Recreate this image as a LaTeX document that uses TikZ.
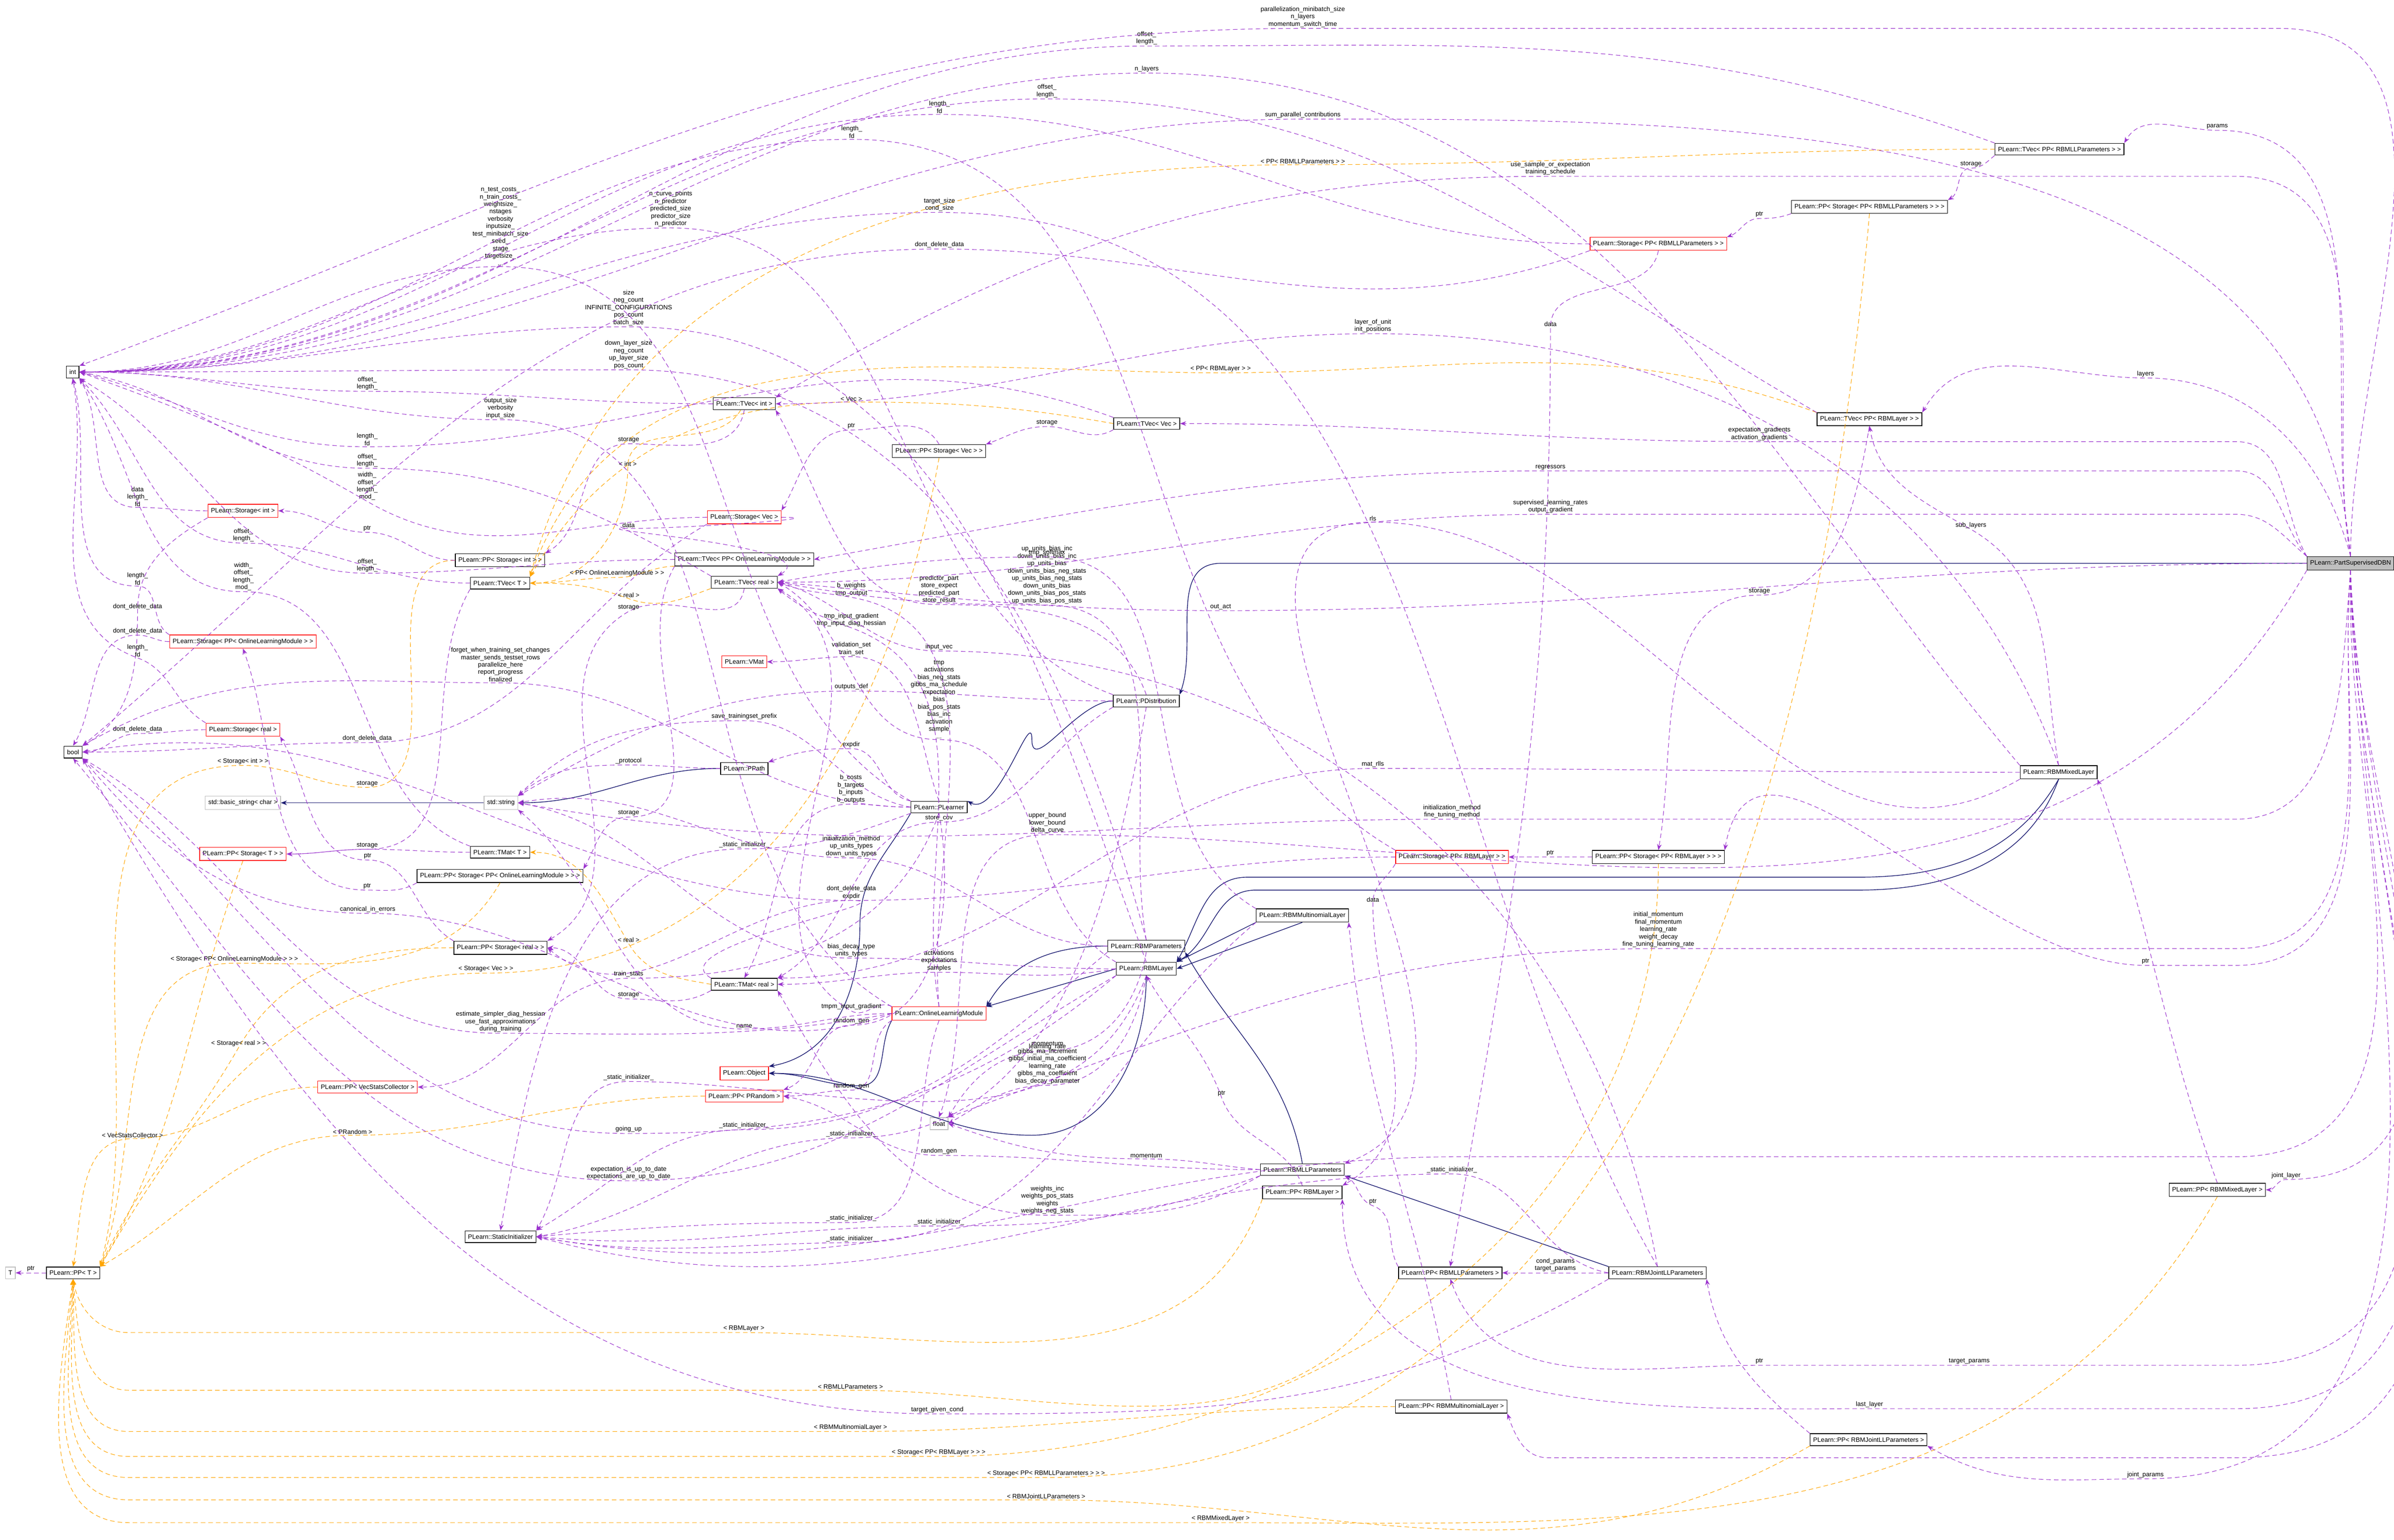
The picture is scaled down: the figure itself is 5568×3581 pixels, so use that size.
\documentclass[tikz,border=0pt]{standalone}
\usepackage{fontspec}
\setmainfont{Liberation Sans}
\usetikzlibrary{arrows.meta}
\definecolor{usecol}{HTML}{9A32CD}
\definecolor{tplcol}{HTML}{FFA500}
\definecolor{inhcol}{HTML}{191970}
\tikzset{
  box/.style={draw,fill=white,inner xsep=2pt,inner ysep=2.4pt,font=\fontsize{4.2}{5}\selectfont},
  rbox/.style={box,draw=red},
  gbox/.style={box,draw=black!25},
  lbl/.style={font=\fontsize{4.2}{4.9}\selectfont,align=center,inner sep=0.6pt,anchor=south,text=black},
  use/.style={usecol,densely dashed,line width=0.35pt,-{Stealth[length=4pt,width=3pt]}},
  tpl/.style={tplcol,densely dashed,line width=0.35pt,-{Stealth[length=4pt,width=3pt]}},
  inh/.style={inhcol,line width=0.45pt,-{Stealth[length=4pt,width=3pt]}},
  lft/.style={out=180,in=0},
  rgt/.style={out=0,in=180}
}
\begin{document}
\begin{tikzpicture}[x=0.01cm,y=0.01cm]
\useasboundingbox (0,0) rectangle (5568,-3581);

% nodes, left column
\node[box]  (int)  at (169,-865)  {int};
\node[box]  (boo)  at (170,-1749) {bool};
\node[gbox] (T)    at (24,-2960)  {T};
\node[box]  (ppT)  at (170,-2960) {PLearn::PP< T >};
\node[rbox] (stint)   at (565,-1188) {PLearn::Storage< int >};
\node[rbox] (stolm)   at (565,-1492) {PLearn::Storage< PP< OnlineLearningModule > >};
\node[rbox] (streal)  at (565,-1697) {PLearn::Storage< real >};
\node[gbox] (bstr)    at (565,-1867) {std::basic\_string< char >};
\node[rbox] (ppstT)   at (565,-1986) {PLearn::PP< Storage< T > >};
\node[rbox] (ppvsc)   at (855,-2528) {PLearn::PP< VecStatsCollector >};
\node[box]  (ppstint) at (1163,-1303) {PLearn::PP< Storage< int > >};
\node[box]  (tvecT)   at (1163,-1356) {PLearn::TVec< T >};
\node[gbox] (str)     at (1165,-1867) {std::string};
\node[box]  (tmatT)   at (1163,-1982) {PLearn::TMat< T >};
\node[box]  (ppstolm) at (1163,-2037) {PLearn::PP< Storage< PP< OnlineLearningModule > > >};
\node[box]  (ppstreal) at (1164,-2204) {PLearn::PP< Storage< real > >};
\node[box]  (sinit)   at (1164,-2876) {PLearn::StaticInitializer};

% middle columns
\node[box]  (tvecint)  at (1731,-939)  {PLearn::TVec< int >};
\node[rbox] (stvec)    at (1731,-1203) {PLearn::Storage< Vec >};
\node[box]  (tvecolm)  at (1731,-1301) {PLearn::TVec< PP< OnlineLearningModule > >};
\node[box]  (tvecreal) at (1731,-1354) {PLearn::TVec< real >};
\node[rbox] (vmat)     at (1731,-1539) {PLearn::VMat};
\node[box]  (ppath)    at (1731,-1787) {PLearn::PPath};
\node[box]  (tmatreal) at (1731,-2289) {PLearn::TMat< real >};
\node[rbox] (obj)      at (1731,-2496) {PLearn::Object};
\node[rbox] (pprand)   at (1731,-2549) {PLearn::PP< PRandom >};
\node[box]  (ppstvec)  at (2184,-1049) {PLearn::PP< Storage< Vec > >};
\node[box]  (plearner) at (2184,-1877) {PLearn::PLearner};
\node[rbox] (olm)      at (2184,-2357) {PLearn::OnlineLearningModule};
\node[gbox] (flt)      at (2184,-2613) {float};
\node[box]  (tvecvec)  at (2667,-985)  {PLearn::TVec< Vec >};
\node[box]  (pdist)    at (2666,-1630) {PLearn::PDistribution};
\node[box]  (rbmpar)   at (2666,-2200) {PLearn::RBMParameters};
\node[box]  (rbmlay)   at (2666,-2253) {PLearn::RBMLayer};
\node[box]  (rbmmulti) at (3029,-2129) {PLearn::RBMMultinomialLayer};
\node[box]  (rbmll)    at (3029,-2720) {PLearn::RBMLLParameters};
\node[box]  (pprbmlay) at (3029,-2773) {PLearn::PP< RBMLayer >};

% right columns
\node[rbox] (stll)     at (3857,-567)  {PLearn::Storage< PP< RBMLLParameters > >};
\node[box]  (ppstll)   at (4348,-481)  {PLearn::PP< Storage< PP< RBMLLParameters > > >};
\node[box]  (tvecll)   at (4790,-347)  {PLearn::TVec< PP< RBMLLParameters > >};
\node[box]  (tveclay)  at (4348,-975)  {PLearn::TVec< PP< RBMLayer > >};
\node[rbox] (stlay)    at (3377,-1993) {PLearn::Storage< PP< RBMLayer > >};
\node[box]  (ppstlay)  at (3857,-1993) {PLearn::PP< Storage< PP< RBMLayer > > >};
\node[box]  (mixed)    at (4788,-1796) {PLearn::RBMMixedLayer};
\node[box]  (pprbmll)  at (3373,-2960) {PLearn::PP< RBMLLParameters >};
\node[box]  (joint)    at (3855,-2960) {PLearn::RBMJointLLParameters};
\node[box]  (ppmixed)  at (5157,-2767) {PLearn::PP< RBMMixedLayer >};
\node[box]  (ppmulti)  at (3375,-3271) {PLearn::PP< RBMMultinomialLayer >};
\node[box]  (ppjoint)  at (4346,-3348) {PLearn::PP< RBMJointLLParameters >};
\node[box,fill=black!25] (dbn) at (5467,-1310) {PLearn::PartSupervisedDBN};

% inheritance
\draw[inh] (str) -- (bstr);
\draw[inh] (ppath) to[out=180,in=0] (str);
\draw[inh] (pdist.west) to[out=180,in=-90] (2400,-1720) to[out=90,in=-30] (plearner.north east);
\draw[inh] (dbn.west) -- (2840,-1310) to[out=180,in=70] (pdist.north east);
\draw[inh] (plearner.south west) to[out=-120,in=90] (2000,-2150) to[out=-90,in=10] (obj.north east);
\draw[inh] (olm.south west) to[out=-120,in=0] (2000,-2525) to[out=180,in=0] (obj.east);
\draw[inh] (rbmpar.west) to[out=180,in=60] (olm.north east);
\draw[inh] (rbmlay.west) -- (olm.north east);
\draw[inh] (rbmlay.south) to[out=-90,in=0] (2400,-2640) to[out=180,in=0] (obj.east);
\draw[inh] (rbmmulti.south west) -- (rbmlay.north east);
\draw[inh] (rbmmulti.south) -- (rbmlay.east);
\draw[inh] (mixed.south) to[out=-120,in=0] (4320,-2040) -- (2900,-2040) to[out=180,in=60] (rbmlay.north east);
\draw[inh] (mixed.south) to[out=-110,in=0] (4320,-2070) -- (2920,-2070) to[out=180,in=30] (rbmlay.north east);
\draw[inh] (rbmll.north) to[out=100,in=-60] (rbmpar.south east);
\draw[inh] (joint.north west) -- (rbmll.south east);

% templates
\draw[tpl] (tvecint) to[out=-120,in=90] (1460,-1087) node[lbl]{< int >} to[out=-90,in=0] (tvecT);
\draw[tpl] (tvecolm.south west) to[out=180,in=0] (1435,-1343) node[lbl]{< PP< OnlineLearningModule > >} to[out=180,in=0] (tvecT);
\draw[tpl] (tvecreal.south west) to[out=200,in=-20] (1462,-1392) node[lbl]{< real >} to[out=160,in=0] (tvecT);
\draw[tpl] (tvecvec.west) to[out=170,in=0] (1980,-935) node[lbl]{< Vec >} to[out=180,in=60] (tvecT.north east);
\draw[tpl] (tveclay.north west) to[out=160,in=0] (2839,-867) node[lbl]{< PP< RBMLayer > >} to[out=180,in=70] (tvecT.north east);
\draw[tpl] (tvecll.west) to[out=180,in=0] (3030,-383) node[lbl]{< PP< RBMLLParameters > >} to[out=180,in=75] (tvecT.north east);
\draw[tpl] (tmatreal.west) to[out=170,in=-60] (1462,-2194) node[lbl]{< real >} to[out=120,in=0] (tmatT);
\draw[tpl] (ppstT.south) to[out=-110,in=60] (ppT.north east) node[pos=0.3,lbl]{< Storage< T > >};
\draw[tpl] (ppstint.west) to[out=180,in=0] (854,-1831) node[lbl]{storage} to[out=180,in=0] (565,-1780) node[lbl]{< Storage< int > >} to[out=180,in=75] (ppT.north east);
\draw[tpl] (ppstolm.south) to[out=-120,in=0] (545,-2240) node[lbl]{< Storage< PP< OnlineLearningModule > > >} to[out=180,in=70] (ppT.north east);
\draw[tpl] (ppstreal.west) to[out=180,in=60] (555,-2436) node[lbl]{< Storage< real > >} to[out=-120,in=65] (ppT.north east);
\draw[tpl] (ppstvec.south) to[out=-100,in=0] (1130,-2263) node[lbl]{< Storage< Vec > >} to[out=180,in=60] (ppT.north east);
\draw[tpl] (ppvsc.west) to[out=180,in=0] (308,-2648) node[lbl]{< VecStatsCollector >} to[out=180,in=80] (ppT.north);
\draw[tpl] (pprand.west) to[out=180,in=0] (820,-2640) node[lbl]{< PRandom >} to[out=180,in=30] (ppT.north east);
\draw[tpl] (pprbmlay.south west) to[out=-110,in=0] (1730,-3099) node[lbl]{< RBMLayer >} -- (300,-3099) to[out=180,in=-80] (ppT.south);
\draw[tpl] (pprbmll.south west) to[out=-120,in=0] (1978,-3233) node[lbl]{< RBMLLParameters >} -- (300,-3233) to[out=180,in=-85] (ppT.south);
\draw[tpl] (ppmulti.west) to[out=180,in=0] (1978,-3329) node[lbl]{< RBMMultinomialLayer >} -- (300,-3329) to[out=180,in=-88] (ppT.south);
\draw[tpl] (ppstlay.south) to[out=-90,in=0] (2183,-3387) node[lbl]{< Storage< PP< RBMLayer > > >} -- (300,-3387) to[out=180,in=-90] (ppT.south);
\draw[tpl] (ppstll.south) to[out=-95,in=0] (2433,-3436) node[lbl]{< Storage< PP< RBMLLParameters > > >} -- (300,-3436) to[out=180,in=-92] (ppT.south);
\draw[tpl] (ppjoint.south west) to[out=-150,in=0] (2433,-3488) node[lbl]{< RBMJointLLParameters >} -- (300,-3488) to[out=180,in=-95] (ppT.south);
\draw[tpl] (ppmixed.south) to[out=-120,in=0] (2839,-3541) node[lbl]{< RBMMixedLayer >} -- (300,-3541) to[out=180,in=-98] (ppT.south);

% usage, container classes
\draw[use] (ppT) -- (T) node[midway,lbl]{ptr};
\draw[use] (stint.west) to[lft] (320,-1180) node[lbl]{data\\length\_\\fd} to[out=180,in=-60] (int.south east);
\draw[use] (stint.south west) to[out=-150,in=90] (320,-1420) node[lbl]{dont\_delete\_data} to[out=-90,in=30] (boo.north east);
\draw[use] (ppstint.west) to[lft] (854,-1238) node[lbl]{ptr} to[lft] (stint.east);
\draw[use] (tvecT.west) to[lft] (566,-1263) node[lbl]{offset\_\\length\_} to[out=180,in=-45] (int.south east);
\draw[use] (tvecT.south west) to[out=-120,in=0] (854,-1975) node[lbl]{storage} to[lft] (ppstT.east);
\draw[use] (stolm.north west) to[out=150,in=0] (320,-1363) node[lbl]{length\_\\fd} to[out=180,in=-75] (int.south);
\draw[use] (stolm.west) to[lft] (320,-1477) node[lbl]{dont\_delete\_data} to[out=180,in=60] (boo.north);
\draw[use] (ppstolm.south west) to[out=-150,in=0] (854,-2070) node[lbl]{ptr} to[out=180,in=-70] (stolm.south);
\draw[use] (streal.north west) to[out=150,in=-20] (320,-1530) node[lbl]{length\_\\fd} to[out=160,in=-80] (int.south);
\draw[use] (streal.west) to[lft] (320,-1706) node[lbl]{dont\_delete\_data} to[lft] (boo.east);
\draw[use] (ppstreal.north west) to[out=150,in=0] (855,-2000) node[lbl]{ptr} to[out=180,in=-60] (streal.south east);
\draw[use] (tmatT.north west) to[out=160,in=0] (566,-1376) node[lbl]{width\_\\offset\_\\length\_\\mod\_} to[out=180,in=-55] (int.south east);
\draw[use] (tmatT.west) to[lft] (854,-1975) to[lft] (ppstT.east);
\draw[use] (tvecint.west) to[lft] (854,-910) node[lbl]{offset\_\\length\_} to[lft] (int.east);
\draw[use] (tvecint.south) to[out=-100,in=0] (1462,-1032) node[lbl]{storage} to[out=180,in=30] (ppstint.north east);
\draw[use] (tvecreal.north west) to[out=150,in=0] (854,-1089) node[lbl]{offset\_\\length\_} to[out=180,in=-10] (int.east);
\draw[use] (tvecreal.south) to[out=-100,in=30] (1462,-1422) node[lbl]{storage} to[out=-150,in=30] (ppstreal.north east);
\draw[use] (tvecolm.west) to[lft] (854,-1333) node[lbl]{offset\_\\length\_} to[out=180,in=-30] (int.south east);
\draw[use] (tvecolm.south west) to[out=-120,in=0] (1462,-1900) node[lbl]{storage} to[out=180,in=60] (ppstolm.north east);
\draw[use] (tvecvec.north west) to[out=160,in=0] (854,-1039) node[lbl]{length\_\\fd} to[out=180,in=-15] (int.east);
\draw[use] (tvecvec.south west) to[out=-150,in=0] (2435,-992) node[lbl]{storage} to[out=180,in=20] (ppstvec.north east);
\draw[use] (ppstvec.north) to[out=120,in=0] (1980,-1000) node[lbl]{ptr} to[out=180,in=60] (stvec.north east);
\draw[use] (stvec.west) to[out=180,in=-30] (854,-1166) node[lbl]{width\_\\offset\_\\length\_\\mod\_} to[out=150,in=-20] (int.east);
\draw[use] (stvec.south west) to[out=-150,in=0] (854,-1727) node[lbl]{dont\_delete\_data} to[lft] (boo.east);
\draw[use] (stvec.east) to[out=0,in=0] (1462,-1229) node[lbl]{data} to[out=180,in=30] (tvecreal.north east);
\draw[use] (tmatreal.north west) to[out=150,in=0] (1980,-2094) to[out=180,in=-40] (ppstreal.east);
\draw[use] (tmatreal.south west) to[out=-150,in=0] (1462,-2323) node[lbl]{storage} to[out=180,in=0] (ppstreal.east);

% usage, learner classes
\draw[use] (plearner.north west) to[out=150,in=0] (1164,-620) node[lbl]{n\_test\_costs\_\\n\_train\_costs\_\\weightsize\_\\nstages\\verbosity\\inputsize\_\\test\_minibatch\_size\\seed\_\\stage\\targetsize\_\\...} to[lft] (int.east);
\draw[use] (plearner.west) to[out=180,in=0] (1164,-1588) node[lbl]{forget\_when\_training\_set\_changes\\master\_sends\_testset\_rows\\parallelize\_here\\report\_progress\\finalized} to[out=180,in=30] (boo.north east);
\draw[use] (plearner.north west) to[out=170,in=0] (1980,-1741) node[lbl]{expdir} to[out=180,in=20] (ppath.north east);
\draw[use] (plearner.north) to[out=110,in=0] (1980,-1527) node[lbl]{validation\_set\\train\_set} to[lft] (vmat.east);
\draw[use] (plearner.south) to[out=-110,in=0] (1462,-2275) node[lbl]{train\_stats} to[out=180,in=0] (ppvsc.east);
\draw[use] (plearner.west) to[out=170,in=0] (1731,-1676) node[lbl]{save\_trainingset\_prefix} to[out=180,in=45] (str.north east);
\draw[use] (plearner.west) to[out=180,in=0] (1979,-1870) node[lbl]{b\_costs\\b\_targets\\b\_inputs\\b\_outputs} to[out=180,in=60] (tmatreal.north);
\draw[use] (plearner.south west) to[out=-160,in=0] (1731,-1974) node[lbl]{\_static\_initializer\_} to[out=180,in=80] (sinit.north);
\draw[use] (plearner.south) to[out=-80,in=0] (1980,-2384) node[lbl]{random\_gen} to[out=180,in=20] (pprand.north east);
\draw[use] (ppath.west) to[out=180,in=0] (1462,-1779) node[lbl]{\_protocol} to[out=180,in=40] (str.north east);
\draw[use] (pdist.north west) to[out=160,in=0] (1560,-530) node[lbl]{n\_curve\_points\\n\_predictor\\predicted\_size\\predictor\_size\\n\_predictor} to[lft] (int.east);
\draw[use] (pdist.north) to[out=110,in=0] (2184,-1406) node[lbl]{predictor\_part\\store\_expect\\predicted\_part\\store\_result} to[out=180,in=-60] (tvecint.south east);
\draw[use] (pdist.west) to[out=180,in=0] (1980,-1607) node[lbl]{outputs\_def} to[out=180,in=30] (str.north east);
\draw[use] (pdist.south west) to[out=-150,in=0] (2184,-1912) node[lbl]{store\_cov} to[out=180,in=30] (tmatreal.north east);
\draw[use] (pdist.south) to[out=-100,in=0] (1980,-2646) node[lbl]{\_static\_initializer\_} to[out=180,in=10] (sinit.east);
\draw[use] (olm.north west) to[out=150,in=0] (1164,-976) node[lbl]{output\_size\\verbosity\\input\_size} to[lft] (int.east);
\draw[use] (olm.west) to[out=180,in=0] (1731,-2393) node[lbl]{name} to[out=180,in=-40] (str.south east);
\draw[use] (olm.south west) to[out=-150,in=0] (1980,-2535) node[lbl]{random\_gen} to[lft] (pprand.east);
\draw[use] (olm.west) to[out=190,in=0] (1164,-2403) node[lbl]{estimate\_simpler\_diag\_hessian\\use\_fast\_approximations\\during\_training} to[out=180,in=-30] (boo.south east);
\draw[use] (olm.north west) to[out=150,in=-30] (1980,-2351) node[lbl]{tmpm\_input\_gradient} to[out=150,in=-30] (tvecreal.south east);
\draw[use] (olm.north) to[out=100,in=-20] (1980,-1460) node[lbl]{tmp\_input\_gradient\\tmp\_input\_diag\_hessian} to[out=160,in=-40] (tvecreal.south east);
\draw[use] (olm.north) to[out=95,in=-10] (1980,-1389) node[lbl]{b\_weights\\tmp\_output} to[out=170,in=-20] (tvecreal.east);
\draw[use] (olm.south) to[out=-110,in=0] (1980,-2843) node[lbl]{\_static\_initializer\_} to[out=180,in=5] (sinit.east);
\draw[use] (olm.west) to[out=200,in=0] (855,-2124) node[lbl]{canonical\_in\_errors} to[out=180,in=-50] (boo.south east);

% usage, rbm classes
\draw[use] (rbmlay.north) to[out=110,in=0] (1462,-760) node[lbl]{size\\neg\_count\\INFINITE\_CONFIGURATIONS\\pos\_count\\batch\_size} to[lft] (int.east);
\draw[use] (rbmpar.north) to[out=105,in=0] (1462,-860) node[lbl]{down\_layer\_size\\neg\_count\\up\_layer\_size\\pos\_count} to[lft] (int.east);
\draw[use] (rbmlay.north west) to[out=150,in=0] (2184,-1720) node[lbl]{tmp\\activations\\bias\_neg\_stats\\gibbs\_ma\_schedule\\expectation\\bias\\bias\_pos\_stats\\bias\_inc\\activation\\sample\\...} to[out=180,in=-30] (tvecreal.east);
\draw[use] (rbmpar.north) to[out=100,in=0] (2435,-1407) node[lbl]{up\_units\_bias\_inc\\down\_units\_bias\_inc\\up\_units\_bias\\down\_units\_bias\_neg\_stats\\up\_units\_bias\_neg\_stats\\down\_units\_bias\\down\_units\_bias\_pos\_stats\\up\_units\_bias\_pos\_stats} to[out=180,in=-10] (tvecreal.east);
\draw[use] (rbmpar.west) to[out=180,in=0] (1980,-1995) node[lbl]{initialization\_method\\up\_units\_types\\down\_units\_types} to[out=180,in=10] (str.east);
\draw[use] (rbmlay.west) to[out=180,in=0] (1980,-2228) node[lbl]{bias\_decay\_type\\units\_types} to[out=180,in=-10] (str.east);
\draw[use] (rbmlay.west) to[out=190,in=0] (2184,-2261) node[lbl]{activations\\expectations\\samples} to[out=180,in=0] (tmatreal.east);
\draw[use] (rbmpar.south) to[out=-100,in=0] (2436,-2444) node[lbl]{learning\_rate} to[out=180,in=60] (flt.north east);
\draw[use] (rbmlay.south) to[out=-100,in=0] (2436,-2524) node[lbl]{momentum\\gibbs\_ma\_increment\\gibbs\_initial\_ma\_coefficient\\learning\_rate\\gibbs\_ma\_coefficient\\bias\_decay\_parameter} to[out=180,in=30] (flt.east);
\draw[use] (rbmlay.south west) to[out=-140,in=0] (1462,-2636) node[lbl]{going\_up} to[out=180,in=-40] (boo.south east);
\draw[use] (rbmlay.south west) to[out=-150,in=0] (1462,-2746) node[lbl]{expectation\_is\_up\_to\_date\\expectations\_are\_up\_to\_date} to[out=180,in=-50] (boo.south);
\draw[use] (rbmlay.south) to[out=-110,in=0] (1462,-2515) node[lbl]{\_static\_initializer\_} to[out=180,in=60] (sinit.north east);
\draw[use] (rbmpar.south west) to[out=-140,in=0] (1731,-2627) node[lbl]{\_static\_initializer\_} to[out=180,in=30] (sinit.north east);
\draw[use] (rbmll.west) to[out=180,in=0] (2184,-2687) node[lbl]{random\_gen} to[out=180,in=-10] (pprand.east);
\draw[use] (rbmll.west) to[out=175,in=0] (2666,-2695) node[lbl]{momentum} to[out=180,in=-20] (flt.east);
\draw[use] (rbmll.south west) to[out=-150,in=0] (2436,-2826) node[lbl]{weights\_inc\\weights\_pos\_stats\\weights\\weights\_neg\_stats} to[out=180,in=-60] (tmatreal.south east);
\draw[use] (rbmll.south west) to[out=-160,in=0] (2184,-2851) node[lbl]{\_static\_initializer\_} to[out=180,in=-5] (sinit.east);
\draw[use] (rbmmulti.south west) to[out=-140,in=0] (1980,-2890) node[lbl]{\_static\_initializer\_} to[out=180,in=-10] (sinit.east);
\draw[use] (rbmmulti.north west) to[out=150,in=0] (2435,-1295) node[lbl]{tmp\_softmax} to[out=180,in=10] (tvecreal.east);
\draw[use] (pprbmlay.north) to[out=110,in=-70] (2841,-2552) node[lbl]{ptr} to[out=110,in=-60] (rbmlay.south);
\draw[use] (pprbmll.north west) to[out=120,in=-20] (3193,-2804) node[lbl]{ptr} to[out=160,in=-30] (rbmll.south east);
\draw[use] (ppmulti.north) to[out=100,in=-85] (rbmmulti.south east);
\draw[use] (ppjoint.north west) to[out=140,in=-80] (joint.south east);
\draw[use] (ppmixed.north) to[out=110,in=-70] (mixed.south east);
\draw[use] (joint.west) -- (pprbmll.east) node[midway,lbl]{cond\_params\\target\_params};
\draw[use] (joint.north) to[out=120,in=0] (2185,-494) node[lbl]{target\_size\\cond\_size} to[lft] (int.east);
\draw[use] (joint.south west) to[out=-150,in=0] (2180,-3288) node[lbl]{target\_given\_cond} to[out=180,in=-60] (boo.south east);
\draw[use] (joint.north) to[out=100,in=0] (2184,-1514) node[lbl]{input\_vec} to[out=180,in=-15] (tvecreal.east);
\draw[use] (joint.west) to[out=170,in=0] (3377,-2730) node[lbl]{\_static\_initializer\_} to[out=180,in=-15] (sinit.east);
\draw[use] (ppstlay.west) -- (stlay.east) node[midway,lbl]{ptr};
\draw[use] (stlay.south west) to[out=-120,in=90] (3193,-2100) node[lbl]{data} to[out=-90,in=30] (pprbmlay.north east);
\draw[use] (stlay.north west) to[out=150,in=0] (1981,-324) node[lbl]{length\_\\fd} to[lft] (int.east);
\draw[use] (stlay.west) to[out=180,in=0] (1980,-2094) node[lbl]{dont\_delete\_data\\expdir} to[out=180,in=10] (boo.east);
\draw[use] (ppstll.south west) to[out=-160,in=0] (4092,-508) node[lbl]{ptr} to[out=180,in=20] (stll.north east);
\draw[use] (stll.south) to[out=-100,in=90] (3606,-762) node[lbl]{data} to[out=-90,in=80] (pprbmll.north);
\draw[use] (stll.west) to[out=180,in=0] (2185,-266) node[lbl]{length\_\\fd} to[lft] (int.east);
\draw[use] (stll.south west) to[out=-160,in=0] (2185,-579) node[lbl]{dont\_delete\_data} to[out=180,in=40] (boo.north east);
\draw[use] (tvecll.south west) to[out=-140,in=0] (4584,-391) node[lbl]{storage} to[out=180,in=30] (ppstll.north east);
\draw[use] (tvecll.north west) to[out=160,in=0] (2667,-107) node[lbl]{offset\_\\length\_} to[lft] (int.east);
\draw[use] (tveclay.north west) to[out=150,in=0] (2435,-230) node[lbl]{offset\_\\length\_} to[lft] (int.east);
\draw[use] (tveclay.south) to[out=-100,in=0] (4092,-1384) node[lbl]{storage} to[out=180,in=80] (ppstlay.north);
\draw[use] (mixed.north) to[out=100,in=-30] (4584,-1231) node[lbl]{sub\_layers} to[out=150,in=-80] (tveclay.south);
\draw[use] (mixed.north) to[out=110,in=0] (3193,-776) node[lbl]{layer\_of\_unit\\init\_positions} to[lft] (tvecint.east);
\draw[use] (mixed.north west) to[out=130,in=0] (2667,-170) node[lbl]{n\_layers} to[lft] (int.east);
\draw[use] (mixed.west) to[lft] (3193,-1787) node[lbl]{mat\_rlls} to[lft] (tmatreal.north east);
\draw[use] (mixed.south west) to[out=-150,in=0] (3193,-1214) node[lbl]{rls} to[out=180,in=20] (rbmll.north east);

% usage, PartSupervisedDBN
\draw[use] (dbn.north) to[out=90,in=0] (5300,-66) -- (3030,-66) node[lbl]{parallelization\_minibatch\_size\\n\_layers\\momentum\_switch\_time} to[out=180,in=20] (int.north east);
\draw[use] (dbn.north) to[out=95,in=0] (3030,-277) node[lbl]{sum\_parallel\_contributions} to[lft] (int.east);
\draw[use] (dbn.north) to[out=100,in=0] (5157,-303) node[lbl]{params} to[out=180,in=60] (tvecll.north east);
\draw[use] (dbn.north) to[out=100,in=0] (5200,-410) -- (3606,-410) node[lbl]{use\_sample\_or\_expectation\\training\_schedule} to[out=180,in=30] (tvecint.north east);
\draw[use] (dbn.north) to[out=105,in=0] (4990,-879) node[lbl]{layers} to[out=180,in=60] (tveclay.north east);
\draw[use] (dbn.north west) to[out=120,in=0] (5200,-1027) -- (4092,-1027) node[lbl]{expectation\_gradients\\activation\_gradients} to[lft] (tvecvec.east);
\draw[use] (dbn.north west) to[out=130,in=0] (5200,-1095) -- (3606,-1095) node[lbl]{regressors} to[out=180,in=10] (tvecolm.east);
\draw[use] (dbn.north west) to[out=140,in=0] (5200,-1196) -- (3606,-1196) node[lbl]{supervised\_learning\_rates\\output\_gradient} to[out=180,in=0] (tvecreal.east);
\draw[use] (dbn.west) to[out=180,in=0] (2839,-1420) node[lbl]{out\_act} to[out=180,in=-5] (tvecreal.east);
\draw[use] (dbn.south) to[out=-95,in=0] (5200,-1905) -- (3377,-1905) node[lbl]{initialization\_method\\fine\_tuning\_method} to[out=180,in=-10] (str.east);
\draw[use] (dbn.south) to[out=-95,in=0] (5200,-2206) -- (3857,-2206) node[lbl]{initial\_momentum\\final\_momentum\\learning\_rate\\weight\_decay\\fine\_tuning\_learning\_rate} to[out=180,in=20] (flt.north east);
\draw[use] (dbn.south west) to[out=-120,in=0] (2436,-1941) node[lbl]{upper\_bound\\lower\_bound\\delta\_curve} to[out=180,in=70] (flt.north);
\draw[use] (dbn.south) to[out=-95,in=0] (5200,-2245) -- (4990,-2245) node[lbl]{ptr} to[out=180,in=80] (ppstlay.north east);
\draw[use] (dbn.south) to[out=-92,in=0] (5200,-2690) -- (3400,-2690) to[out=180,in=-10] (sinit.east);
\draw[use] (dbn.south) to[out=-90,in=0] (5317,-2743) node[lbl]{joint\_layer} to[out=180,in=0] (ppmixed.east);
\draw[use] (dbn.south) to[out=-90,in=0] (5200,-3175) -- (4580,-3175) node[lbl]{target\_params} -- (4092,-3175) node[lbl]{ptr} to[out=180,in=-70] (pprbmll.south);
\draw[use] (dbn.south) to[out=-90,in=0] (5200,-3276) -- (4348,-3276) node[lbl]{last\_layer} to[out=180,in=-90] (pprbmlay.south east);
\draw[use] (dbn.south) to[out=-88,in=0] (4990,-3439) node[lbl]{joint\_params} to[out=180,in=-30] (ppjoint.south east);
\draw[use] (dbn.south) to[out=-88,in=0] (5200,-3390) -- (3600,-3390) to[out=180,in=-70] (ppmulti.south east);
\end{tikzpicture}
\end{document}
